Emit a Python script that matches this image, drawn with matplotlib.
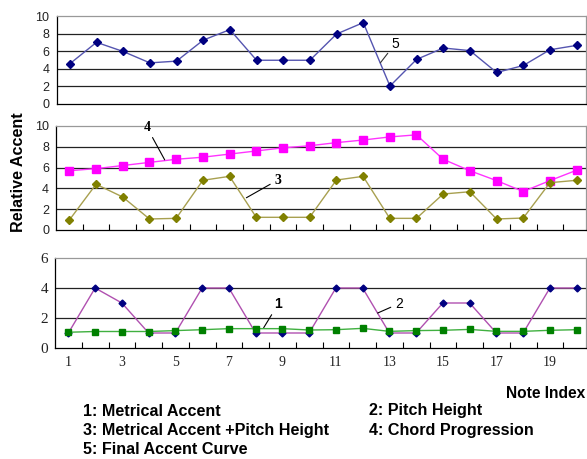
import numpy as np
import matplotlib.pyplot as plt

notes = np.arange(1, 21)

# series
metrical = [1.05, 1.1, 1.1, 1.1, 1.16, 1.22, 1.29, 1.29, 1.29, 1.2,
            1.22, 1.31, 1.11, 1.16, 1.18, 1.24, 1.11, 1.11, 1.18, 1.22]
pitch = [1, 4, 3, 1, 1, 4, 4, 1, 1, 1, 4, 4, 1, 1, 3, 3, 1, 1, 4, 4]
metr_pitch = [0.96, 4.4, 3.17, 1.06, 1.12, 4.78, 5.16, 1.22, 1.22, 1.22,
              4.8, 5.16, 1.12, 1.12, 3.46, 3.68, 1.06, 1.15, 4.55, 4.78]
chord = [5.7, 5.9, 6.2, 6.5, 6.8, 7.0, 7.3, 7.6, 7.9, 8.1,
         8.4, 8.65, 8.95, 9.15, 6.8, 5.7, 4.75, 3.7, 4.75, 5.75]
final = [4.6, 7.05, 6.0, 4.7, 4.9, 7.3, 8.5, 5.0, 5.0, 5.0,
         8.0, 9.3, 2.05, 5.1, 6.4, 6.1, 3.6, 4.4, 6.2, 6.7]

x_tick_labels = [str(i) for i in range(1, 20, 2)]
legend_rows = [("1: Metrical Accent", "2: Pitch Height"),
               ("3: Metrical Accent +Pitch Height", "4: Chord Progression"),
               ("5: Final Accent Curve", "")]

fig = plt.figure(figsize=(5.87, 4.59), dpi=100)
W, H = 587.0, 459.0


def make_axes(left, top_px, bottom_px):
    right = 586.0
    return fig.add_axes([left / W, 1 - bottom_px / H, (right - left) / W, (bottom_px - top_px) / H])


def style_axes(ax, ymax, ystep, ticks_font, tick_size, bottom_ticks):
    ax.set_xlim(0.5, 20.35)
    ax.set_ylim(0, ymax)
    ax.set_yticks(np.arange(0, ymax + 0.1, ystep))
    for v in np.arange(ystep, ymax, ystep):
        ax.axhline(v, color="#222222", lw=0.9, zorder=0)
    for s in ["top", "right"]:
        ax.spines[s].set_color("#999999")
        ax.spines[s].set_linewidth(0.9)
    for s in ["left", "bottom"]:
        ax.spines[s].set_color("black")
        ax.spines[s].set_linewidth(0.9)
    ax.tick_params(axis="y", length=0, pad=5, labelsize=tick_size)
    for lab in ax.get_yticklabels():
        lab.set_family(ticks_font)
        lab.set_color("#222222")
    if bottom_ticks:
        ax.set_xticks(np.arange(1.5, 20.5, 1), minor=False)
        ax.tick_params(axis="x", direction="in", length=4, width=0.8, labelbottom=False)
    else:
        ax.set_xticks([])


# top panel: final accent curve
ax1 = make_axes(56.5, 16.5, 104)
style_axes(ax1, 10, 2, "Liberation Sans", 9, False)
ax1.plot(notes, final, color="#5555b0", lw=1, marker="D", ms=4.5,
         mfc="#000080", mec="#000080", zorder=3)
ax1.annotate("5", xy=(12.64, 4.7), xytext=(13.2, 6.9), fontsize=10,
             family="Liberation Sans", ha="center", va="center",
             arrowprops=dict(arrowstyle="-", color="#333333", lw=0.8, shrinkA=1, shrinkB=0))

# middle panel: chord progression and metrical + pitch
ax2 = make_axes(56, 126, 230)
style_axes(ax2, 10, 2, "Liberation Sans", 9, True)
ax2.plot(notes, chord, color="#ff33ff", lw=1, marker="s", ms=5.5,
         mfc="#ff00ff", mec="#ff00ff", zorder=3)
ax2.plot(notes, metr_pitch, color="#a8a050", lw=1, marker="D", ms=4.5,
         mfc="#808000", mec="#808000", zorder=3)
ax2.annotate("4", xy=(4.57, 6.75), xytext=(3.9, 9.9), fontsize=10, fontweight="bold",
             family="Liberation Serif", ha="center", va="center",
             arrowprops=dict(arrowstyle="-", color="black", lw=0.8, shrinkA=1, shrinkB=0))
ax2.annotate("3", xy=(7.63, 3.1), xytext=(8.8, 4.8), fontsize=10, fontweight="bold",
             family="Liberation Serif", ha="center", va="center",
             arrowprops=dict(arrowstyle="-", color="black", lw=0.8, shrinkA=1, shrinkB=0))

# bottom panel: metrical accent and pitch height
ax3 = make_axes(55, 258, 348)
style_axes(ax3, 6, 2, "Liberation Serif", 11, True)
ax3.plot(notes, pitch, color="#b050b0", lw=1, marker="D", ms=3.5,
         mfc="#000080", mec="#000080", zorder=3)
ax3.plot(notes, metrical, color="#40b040", lw=1, marker="s", ms=5,
         mfc="#008000", mec="#008000", zorder=4)
ax3.annotate("1", xy=(8.3, 1.35), xytext=(8.85, 2.95), fontsize=10, fontweight="bold",
             family="Liberation Sans", ha="center", va="center",
             arrowprops=dict(arrowstyle="-", color="black", lw=0.8, shrinkA=1, shrinkB=0))
ax3.annotate("2", xy=(12.56, 2.33), xytext=(13.35, 2.95), fontsize=10,
             family="Liberation Sans", ha="center", va="center",
             arrowprops=dict(arrowstyle="-", color="black", lw=0.8, shrinkA=1, shrinkB=0))
for i, lab in enumerate(x_tick_labels):
    ax3.text(1 + 2 * i, -0.55, lab, ha="center", va="top", fontsize=10,
             family="Liberation Serif", color="#222222")

fig.text(19 / W, 1 - 172 / H, "Relative Accent", rotation=90, ha="center", va="center",
         fontsize=11.6, family="Liberation Sans", fontweight="bold")
fig.text(585 / W, 1 - 393 / H, "Note Index", ha="right", va="center",
         fontsize=11.2, family="Liberation Sans", fontweight="bold")
row_y = [411, 430, 449]
for (left_txt, right_txt), y in zip(legend_rows, row_y):
    fig.text(83 / W, 1 - y / H, left_txt, ha="left", va="center",
             fontsize=11.6, family="Liberation Sans", fontweight="bold")
    if right_txt:
        fig.text(369 / W, 1 - y / H, right_txt, ha="left", va="center",
                 fontsize=11.6, family="Liberation Sans", fontweight="bold")

fig.savefig("out.png", dpi=100)
